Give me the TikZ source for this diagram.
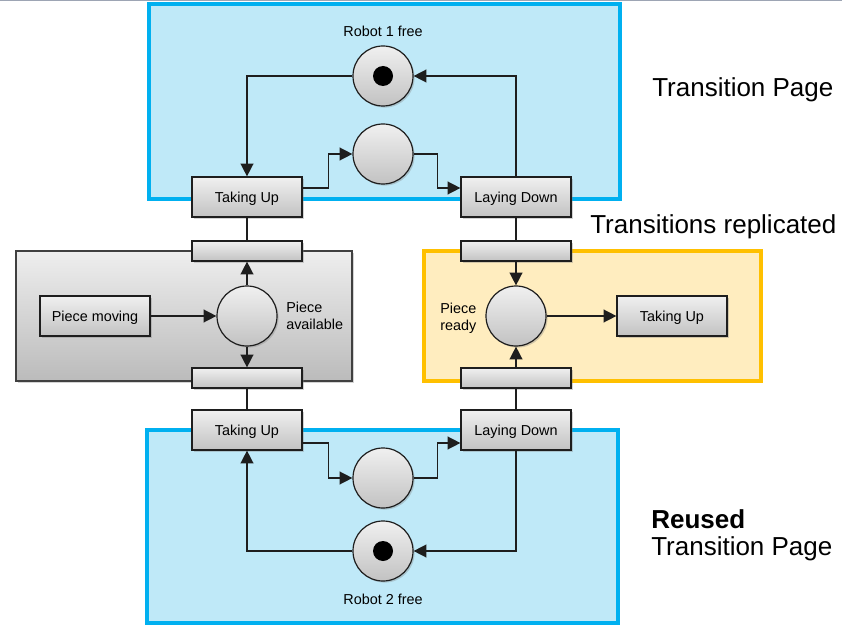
\documentclass[tikz,border=0pt]{standalone}
\usepackage{fontspec}
\setmainfont{Liberation Sans}
\usetikzlibrary{arrows.meta,shadows}
\definecolor{pgfill}{HTML}{BFE9F8}
\definecolor{pgborder}{HTML}{00B0F0}
\definecolor{ylfill}{HTML}{FFEDBF}
\definecolor{ylborder}{HTML}{FFC000}
\definecolor{gtop}{HTML}{F0F0F0}
\definecolor{gbot}{HTML}{C2C2C2}
\definecolor{boxtop}{HTML}{EEEEEE}
\definecolor{boxbot}{HTML}{BBBBBB}
\definecolor{edgec}{HTML}{1E1E1E}
\definecolor{topline}{HTML}{9DA5B4}
\begin{document}
\begin{tikzpicture}[x=0.75pt,y=-0.75pt,
 every node/.style={font=\fontsize{10.8}{13}\selectfont},
 shad/.style={drop shadow={shadow xshift=1.2pt,shadow yshift=-1.2pt,opacity=0.35}},
 trans/.style={rectangle, draw=edgec, line width=0.9pt, top color=gtop, bottom color=gbot, minimum width=82.5pt, minimum height=30pt, inner sep=0pt, text height=9.5pt, text depth=1.5pt, shad},
 bar/.style={trans, minimum height=15pt, text height=0pt, text depth=0pt},
 place/.style={circle, draw=edgec, line width=0.9pt, top color=gtop, bottom color=gbot, minimum size=45pt, inner sep=0pt, shad},
 token/.style={circle, fill=black, minimum size=15pt, inner sep=0pt},
 arc/.style={line width=1.1pt, draw=edgec, -{Triangle[length=9.5pt,width=9.5pt]}},
 link/.style={line width=1.1pt, draw=edgec},
 page/.style={draw=pgborder, fill=pgfill, line width=2.4pt},
 big/.style={font=\fontsize{19.5}{23}\selectfont, anchor=west, inner sep=0pt}
]
\useasboundingbox (0,0) rectangle (842,627);
\draw[topline, line width=0.8pt] (0,0.6) -- (842,0.6);

% containers
\draw[page] (149,4) rectangle (620,199);
\draw[page] (147,430) rectangle (618,623);
\draw[draw=ylborder, fill=ylfill, line width=2.4pt] (424,251) rectangle (761,381);
\draw[draw=edgec!85, line width=1.1pt, top color=boxtop, bottom color=boxbot, shad] (16,251) rectangle (352,381);

% top page
\node[place] (r1) at (383,76) {};
\node[token] (k1) at (r1.center) {};
\node (r1l) at (383,31) {Robot 1 free};
\node[place] (p1) at (383,154) {};
\node[trans] (tu1) at (247,197) {Taking Up};
\node[trans] (ld1) at (516,197) {Laying Down};

% middle
\node[bar] (b1) at (247,251) {};
\node[bar] (b2) at (516,251) {};
\node[bar] (b3) at (247,378) {};
\node[bar] (b4) at (516,378) {};
\node[trans] (pm) at (95,316) {Piece moving};
\node[place] (pa) at (247,316) {};
\node[anchor=west, align=left, inner sep=0pt] (pal) at (286,316) {Piece\\available};
\node[place] (pr) at (516,316) {};
\node[anchor=west, align=left, inner sep=0pt] (prl) at (440,318) {Piece\\ready};
\node[trans] (tu3) at (672,316) {Taking Up};

% bottom page
\node[trans] (tu2) at (247,430) {Taking Up};
\node[trans] (ld2) at (516,430) {Laying Down};
\node[place] (p2) at (383,478) {};
\node[place] (r2) at (383,551) {};
\node[token] (k2) at (r2.center) {};
\node (r2l) at (383,599) {Robot 2 free};

% side texts
\node[big] (t1) at (652,90) {Transition Page};
\node[big] (t2) at (590,227) {Transitions replicated};
\node[big, font=\fontsize{19.5}{23}\selectfont\bfseries] (t3) at (651,519) {Reused};
\node[big] (t4) at (651,549) {Transition Page};

% top connectors
\draw[arc] (r1.west) -| (tu1.north);
\draw[arc] (ld1.north) |- (r1.east);
\draw[arc] ([yshift=6.75pt]tu1.east) -- ++(26,0) |- (p1.west);
\draw[arc] (p1.east) -- ++(24,0) |- ([yshift=6.75pt]ld1.west);
\draw[link] (tu1.south) -- (b1.north);
\draw[link] (ld1.south) -- (b2.north);

% middle connectors
\draw[arc] (pm.east) -- (pa.west);
\draw[arc] (pa.north) -- (b1.south);
\draw[arc] (pa.south) -- (b3.north);
\draw[link] (b3.south) -- (tu2.north);
\draw[arc] (b2.south) -- (pr.north);
\draw[arc] (b4.north) -- (pr.south);
\draw[arc] (pr.east) -- (tu3.west);
\draw[link] (ld2.north) -- (b4.south);

% bottom connectors
\draw[arc] ([yshift=-9.75pt]tu2.east) -- ++(26,0) |- (p2.west);
\draw[arc] (p2.east) -- ++(24,0) |- ([yshift=-9.75pt]ld2.west);
\draw[arc] (ld2.south) |- (r2.east);
\draw[arc] (r2.west) -| (tu2.south);
\end{tikzpicture}
\end{document}
